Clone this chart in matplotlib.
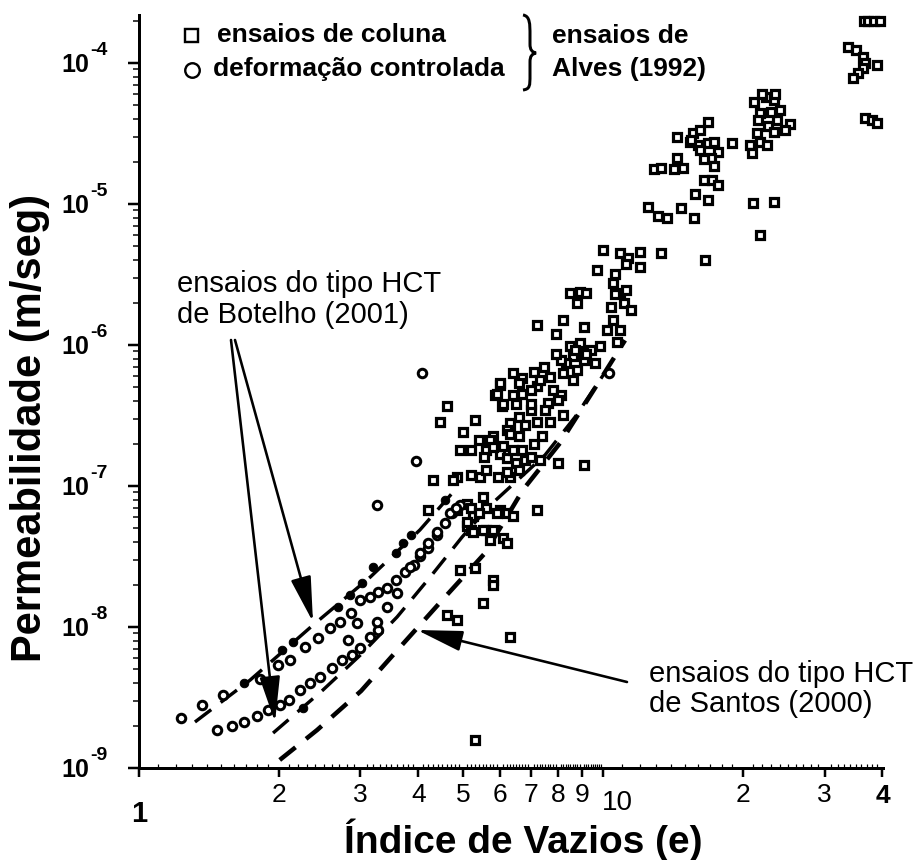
import numpy as np
import matplotlib
matplotlib.use('Agg')
import matplotlib.pyplot as plt
from matplotlib.ticker import FixedLocator, NullFormatter
from matplotlib.path import Path
from matplotlib.patches import PathPatch

plt.rcParams['font.family'] = ['Liberation Sans', 'DejaVu Sans']

# ---------------- data ----------------
# column tests (squares): void ratio e, permeability k (m/s)
col_e = [36.5, 37.2, 38.4, 39.6, 33.7, 35.0, 36.4, 36.6, 36.4, 35.5, 34.6, 39.0, 36.6, 37.9, 39.0,
         21.1, 22.4, 23.3, 24.1, 21.8, 21.5, 22.7, 23.7, 25.3, 20.7, 21.8, 22.6, 23.3, 20.9, 21.6,
         23.0, 24.7, 22.0, 23.5, 21.0, 23.4, 21.8,
         16.8, 15.6, 16.2, 14.4, 15.4, 16.0, 16.8, 17.3, 17.7, 17.1, 16.5, 17.3, 19.0, 14.4, 14.9,
         14.2, 12.9, 13.3, 15.5, 16.2, 16.5, 17.2, 17.7, 15.8, 16.8, 12.5, 13.1, 13.7, 14.7, 15.7,
         10.0, 10.9, 11.3, 12.0, 13.3, 9.7, 10.6, 11.2, 12.0, 16.6, 10.5, 10.9, 11.1, 11.5, 10.4,
         10.5, 10.9, 10.2, 10.7, 9.86, 11.2, 10.6, 8.5, 8.9, 9.2, 8.8, 7.2, 8.2, 7.9, 9.1,
         8.5, 8.9, 9.4, 8.6, 9.1, 9.6, 8.3, 8.8, 8.1, 7.45, 7.1, 6.4, 6.7, 6.0, 5.85, 6.06, 6.4,
         6.7, 7.2, 7.7, 7.8, 8.2, 8.6, 8.1, 7.6, 7.0, 6.6, 6.3, 9.2, 8.7, 7.9, 7.3, 7.0,
         5.3, 5.0, 4.92, 5.2, 5.4, 5.6, 5.55, 6.0, 6.2, 6.5, 6.2, 5.8, 6.4, 6.7, 6.8, 7.0, 7.3,
         6.6, 5.95, 6.3, 5.43, 5.2, 4.85, 5.5, 5.1, 5.6, 6.0, 6.2, 6.4, 5.25, 5.1, 5.2, 5.6, 5.7,
         6.1, 6.2, 4.92, 5.3, 5.8, 5.8, 7.2, 8.0, 9.1, 7.5, 7.0, 6.5, 6.1, 5.9, 6.0, 6.6, 8.0,
         8.2, 7.4, 7.1, 6.3, 6.6, 6.8, 7.2, 7.7, 5.7, 6.1, 5.8, 4.75, 5.6, 6.2, 5.2, 5.4, 5.9,
         5.1, 5.25, 5.5, 5.8, 5.5, 4.6, 4.85, 6.3, 5.3, 4.2, 4.85, 4.6, 4.45, 4.3]
col_k = [2.0e-4, 2.0e-4, 1.97e-4, 1.98e-4, 1.29e-4, 1.24e-4, 1.10e-4, 1.0e-4, 9.2e-5, 8.5e-5,
         7.8e-5, 9.7e-5, 4.1e-5, 3.95e-5, 3.75e-5,
         5.3e-5, 5.7e-5, 5.47e-5, 4.64e-5, 4.4e-5, 3.2e-5, 3.6e-5, 3.94e-5, 3.7e-5, 2.6e-5,
         2.75e-5, 2.6e-5, 3.25e-5, 2.3e-5, 3.94e-5, 4.5e-5, 3.35e-5, 6.0e-5, 6.0e-5, 1.02e-5,
         1.04e-5, 6.0e-6,
         3.8e-5, 3.2e-5, 3.35e-5, 3.0e-5, 2.75e-5, 2.6e-5, 2.7e-5, 2.75e-5, 2.33e-5, 2.12e-5,
         2.08e-5, 1.87e-5, 2.7e-5, 2.12e-5, 1.8e-5, 1.77e-5, 1.77e-5, 1.8e-5, 2.84e-5, 2.42e-5,
         1.48e-5, 1.48e-5, 1.37e-5, 1.17e-5, 1.07e-5, 9.6e-6, 8.2e-6, 7.9e-6, 9.4e-6, 8.0e-6,
         4.72e-6, 4.5e-6, 4.15e-6, 4.6e-6, 4.5e-6, 3.4e-6, 3.2e-6, 3.75e-6, 3.6e-6, 4.0e-6,
         2.75e-6, 2.35e-6, 2.0e-6, 1.77e-6, 1.85e-6, 1.5e-6, 1.28e-6, 1.28e-6, 1.05e-6, 9.8e-7,
         2.45e-6, 2.3e-6, 2.35e-6, 2.37e-6, 2.35e-6, 2.0e-6, 1.39e-6, 1.5e-6, 1.2e-6, 1.35e-6,
         9.8e-7, 1.04e-6, 9.2e-7, 8.3e-7, 7.8e-7, 7.4e-7, 7.4e-7, 6.65e-7, 7.8e-7, 7.0e-7,
         6.4e-7, 6.3e-7, 5.8e-7, 5.2e-7, 4.4e-7, 3.7e-7, 4.4e-7, 4.5e-7, 5.1e-7, 5.9e-7, 4.8e-7,
         6.3e-7, 5.65e-7, 4.4e-7, 3.9e-7, 3.46e-7, 3.1e-7, 2.8e-7, 8.6e-7, 9.2e-7, 8.6e-7,
         5.65e-7, 4.8e-7,
         2.94e-7, 2.4e-7, 1.8e-7, 1.8e-7, 2.12e-7, 1.8e-7, 1.6e-7, 1.7e-7, 1.57e-7, 1.45e-7,
         2.49e-7, 2.25e-7, 1.8e-7, 1.8e-7, 1.53e-7, 1.6e-7, 1.53e-7, 1.3e-7, 1.16e-7, 1.16e-7,
         1.16e-7, 1.2e-7, 1.16e-7, 8.3e-8, 7.5e-8, 7.0e-8, 6.76e-8, 6.4e-8, 6.1e-8, 6.1e-8,
         5.2e-8, 4.9e-8, 4.9e-8, 4.14e-8, 4.3e-8, 3.95e-8, 2.54e-8, 2.6e-8, 2.15e-8, 1.97e-8,
         6.76e-8, 1.45e-7, 1.4e-7, 3.46e-7, 3.8e-7, 3.8e-7, 3.8e-7, 4.5e-7, 5.4e-7, 5.4e-7,
         4.07e-7, 3.2e-7, 2.25e-7, 2.0e-7, 2.35e-7, 2.25e-7, 2.7e-7, 2.85e-7, 2.85e-7, 2.12e-7,
         1.93e-7, 1.9e-7, 1.1e-7, 1.3e-7, 1.25e-7, 7.0e-8, 6.4e-8, 6.4e-8, 5.6e-8, 4.7e-8,
         4.9e-8, 4.9e-8, 1.47e-8, 1.22e-8, 1.12e-8, 8.5e-9, 1.58e-9, 6.76e-8, 6.76e-8, 3.7e-7,
         2.85e-7, 1.1e-7]

# controlled-deformation / HCT tests (open circles)
circ_e = [1.23, 1.37, 1.52, 1.82, 1.99, 2.12, 2.28, 2.43, 2.58, 2.71, 2.86, 2.99, 3.15, 3.27,
          3.43, 3.58, 3.75, 3.91, 4.03, 4.2, 4.39, 4.56, 4.72, 4.92,
          1.47, 1.59, 1.68, 1.80, 1.90, 2.01, 2.1, 2.22, 2.34, 2.455, 2.6, 2.74, 2.88, 2.99, 3.15,
          3.27, 2.82, 2.95, 3.43, 3.25, 3.6, 3.84, 4.03, 4.2, 4.39, 4.67, 4.82,
          3.25, 4.07, 10.3, 3.96]
circ_k = [2.26e-9, 2.8e-9, 3.3e-9, 4.3e-9, 5.4e-9, 5.8e-9, 7.2e-9, 8.4e-9, 9.9e-9, 1.08e-8,
          1.26e-8, 1.55e-8, 1.63e-8, 1.77e-8, 1.9e-8, 2.15e-8, 2.45e-8, 2.76e-8, 3.19e-8,
          3.65e-8, 4.5e-8, 5.5e-8, 6.4e-8, 7.3e-8,
          1.86e-9, 1.97e-9, 2.12e-9, 2.34e-9, 2.58e-9, 2.8e-9, 3.03e-9, 3.57e-9, 4.0e-9, 4.45e-9,
          5.1e-9, 5.83e-9, 6.3e-9, 7.1e-9, 8.5e-9, 9.5e-9, 8.1e-9, 1.06e-8, 1.38e-8, 1.08e-8,
          1.75e-8, 2.65e-8, 3.35e-8, 3.95e-8, 4.7e-8, 6.4e-8, 6.95e-8,
          7.35e-8, 6.3e-7, 6.3e-7, 1.5e-7]

# filled dots
dot_e = [1.68, 2.03, 2.15, 2.68, 2.85, 3.03, 3.2, 3.58, 3.71, 3.85, 4.56, 2.26]
dot_k = [4.0e-9, 6.87e-9, 7.8e-9, 1.38e-8, 1.68e-8, 2.05e-8, 2.65e-8, 3.35e-8, 3.95e-8,
         4.5e-8, 7.96e-8, 2.66e-9]

# fitted curves (dashed)
bot1_e = [1.32, 1.735, 2.37, 3.15, 4.03, 4.80]
bot1_k = [2.12e-9, 4.2e-9, 1.03e-8, 2.26e-8, 4.88e-8, 9.4e-8]
bot2_e = [1.945, 2.49, 2.995, 3.60, 4.24, 4.97, 5.71, 7.50, 8.70, 10.1]
bot2_k = [1.77e-9, 3.57e-9, 6.3e-9, 1.18e-8, 2.26e-8, 4.35e-8, 7.3e-8, 1.66e-7, 3.08e-7, 6.4e-7]
san_e = [2.01, 2.42, 3.01, 3.67, 4.50, 5.57, 6.72, 8.08, 9.61, 11.15]
san_k = [1.14e-9, 1.86e-9, 3.52e-9, 7.33e-9, 1.55e-8, 3.35e-8, 9.4e-8, 2.02e-7, 4.96e-7, 1.08e-6]

x_major = [1, 2, 3, 4, 5, 6, 7, 8, 9, 10, 20, 30, 40]
x_labels = ['1', '2', '3', '4', '5', '6', '7', '8', '9', '10', '2', '3', '4']
y_exponents = [-9, -8, -7, -6, -5, -4]

# ---------------- figure ----------------
W, H = 918, 860
PT = 72 / 100.0  # points per pixel
fig = plt.figure(figsize=(W / 100, H / 100), dpi=100)
ax = fig.add_axes([139 / W, (H - 768) / H, (883 - 139) / W, (768 - 15) / H])
ax.set_xscale('log')
ax.set_yscale('log')
ax.set_xlim(1, 40.1)
ax.set_ylim(1e-9, 2.19e-4)

for s in ['top', 'right']:
    ax.spines[s].set_visible(False)
for s in ['left', 'bottom']:
    ax.spines[s].set_linewidth(3 * PT)

ax.xaxis.set_major_locator(FixedLocator(x_major))
xminor = [round(1 + 0.1 * i, 2) for i in range(1, 90) if abs((1 + 0.1 * i) - round(1 + 0.1 * i)) > 1e-6] + \
         [v for v in range(11, 40) if v not in (20, 30)]
ax.xaxis.set_minor_locator(FixedLocator(xminor))
ax.yaxis.set_major_locator(FixedLocator([10.0 ** n for n in y_exponents]))
ax.yaxis.set_minor_locator(FixedLocator([m * 10.0 ** n for n in y_exponents for m in range(2, 10)]))
for a in (ax.xaxis, ax.yaxis):
    a.set_major_formatter(NullFormatter())
    a.set_minor_formatter(NullFormatter())
ax.tick_params(axis='x', which='major', direction='out', length=9 * PT, width=2.5 * PT)
ax.tick_params(axis='x', which='minor', direction='in', length=4 * PT, width=1.2 * PT)
ax.tick_params(axis='y', which='major', direction='out', length=11 * PT, width=2.5 * PT)
ax.tick_params(axis='y', which='minor', direction='out', length=6 * PT, width=1.5 * PT)

# fitted lines
ax.plot(bot1_e, bot1_k, color='black', lw=3.4 * PT, ls=(0, (6, 3.5)), solid_capstyle='butt')
ax.plot(bot2_e, bot2_k, color='black', lw=3.4 * PT, ls=(0, (6, 3.5)), solid_capstyle='butt')
ax.plot(san_e, san_k, color='black', lw=4.5 * PT, ls=(0, (4.5, 3)), solid_capstyle='butt')

# markers
ax.plot(col_e, col_k, ls='none', marker='s', ms=8 * PT, mew=3.2 * PT, mfc='white', mec='black',
        clip_on=False)
ax.plot(circ_e, circ_k, ls='none', marker='o', ms=8.5 * PT, mew=3.0 * PT, mfc='white', mec='black',
        clip_on=False)
ax.plot(dot_e, dot_k, ls='none', marker='o', ms=8.5 * PT, mew=1 * PT, mfc='black', mec='black')


def fp(x, y):
    return (x / W, 1 - y / H)


# tick labels
for v, lab in zip(x_major, x_labels):
    px = ax.transData.transform((v, 1e-9))[0]
    if v == 1:
        fig.text(px / W, 1 - 822 / H, lab, ha='center', va='baseline', fontsize=21, fontweight='bold')
    elif v == 10:
        fig.text((px + 14) / W, 1 - 810 / H, lab, ha='center', va='baseline', fontsize=20)
    elif v == 40:
        fig.text(px / W, 1 - 803 / H, lab, ha='center', va='baseline', fontsize=19, fontweight='bold')
    else:
        fig.text(px / W, 1 - 802 / H, lab, ha='center', va='baseline', fontsize=19)

for n in y_exponents:
    py = H - ax.transData.transform((1, 10.0 ** n))[1]
    fig.text(89 / W, 1 - (py + 9) / H, '10', ha='right', va='baseline', fontsize=18, fontweight='bold')
    fig.text(90 / W, 1 - (py - 8) / H, '-%d' % abs(n), ha='left', va='baseline', fontsize=14,
             fontweight='bold')

# axis titles
fig.text(30 / W, 1 - 428 / H, 'Permeabilidade (m/seg)', rotation=90, ha='center', va='center',
         fontsize=30, fontweight='bold')
fig.text(523 / W, 1 - 840 / H, 'Índice de Vazios (e)', ha='center', va='center',
         fontsize=28, fontweight='bold')

# legend block
fig.add_artist(plt.Line2D([190.5 / W], [1 - 34.5 / H], marker='s', ms=13 * PT, mew=2.4 * PT,
                          mfc='white', mec='black', transform=fig.transFigure))
fig.add_artist(plt.Line2D([191.5 / W], [1 - 70 / H], marker='o', ms=14.5 * PT, mew=2.4 * PT,
                          mfc='white', mec='black', transform=fig.transFigure))
fig.text(*fp(217, 42), 'ensaios de coluna', ha='left', va='baseline', fontsize=19, fontweight='bold')
fig.text(*fp(213, 76), 'deformação controlada', ha='left', va='baseline', fontsize=19,
         fontweight='bold')
fig.text(*fp(552, 43), 'ensaios de', ha='left', va='baseline', fontsize=19, fontweight='bold')
fig.text(*fp(552, 76), 'Alves (1992)', ha='left', va='baseline', fontsize=19, fontweight='bold')

# curly brace
bv = [(523, 15), (530, 16), (530, 24), (530, 35), (530, 44), (530, 50), (532, 52), (536, 53),
      (532, 54), (530, 56), (530, 62), (530, 75), (530, 86), (530, 89), (523, 90)]
bc = [Path.MOVETO, Path.CURVE4, Path.CURVE4, Path.CURVE4, Path.LINETO, Path.CURVE4, Path.CURVE4,
      Path.CURVE4, Path.CURVE4, Path.CURVE4, Path.CURVE4, Path.LINETO, Path.CURVE4, Path.CURVE4,
      Path.CURVE4]
brace = Path([fp(x, y) for x, y in bv], bc)
fig.add_artist(PathPatch(brace, transform=fig.transFigure, fc='none', ec='black', lw=3 * PT))

# annotations
fig.text(*fp(177, 292), 'ensaios do tipo HCT', ha='left', va='baseline', fontsize=21)
fig.text(*fp(177, 323), 'de Botelho (2001)', ha='left', va='baseline', fontsize=21)
fig.text(*fp(649, 682), 'ensaios do tipo HCT', ha='left', va='baseline', fontsize=21)
fig.text(*fp(649, 712), 'de Santos (2000)', ha='left', va='baseline', fontsize=21)

aprops = dict(arrowstyle='-|>,head_length=2.0,head_width=0.45', color='black',
              lw=2.6 * PT, mutation_scale=14, shrinkA=0, shrinkB=0)
for (x0, y0), (x1, y1) in [((231, 340), (275, 722)), ((235, 340), (313, 622)),
                           ((627, 682), (417, 630))]:
    ax.annotate('', xy=(x1, H - y1), xycoords='figure pixels',
                xytext=(x0, H - y0), textcoords='figure pixels', arrowprops=aprops)

fig.savefig('out.png', dpi=100)
